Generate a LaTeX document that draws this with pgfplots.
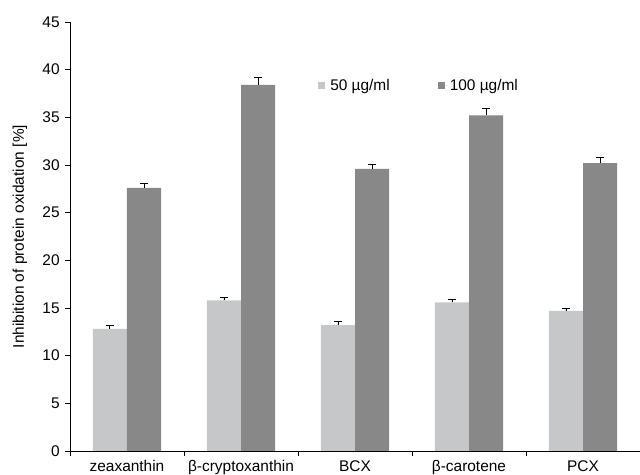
\documentclass[border=0pt]{standalone}
\usepackage{pgfplots}
\pgfplotsset{compat=1.18}
\usepackage{pgfplotstable}
\usepackage{fontspec}
\setmainfont{Liberation Sans}
\definecolor{light}{HTML}{C6C7C9}
\definecolor{dark}{HTML}{888888}
\pgfplotstableread{
x v50 e50 v100 e100
0 12.8 0.4 27.6 0.5
1 15.8 0.3 38.4 0.8
2 13.2 0.35 29.6 0.5
3 15.6 0.25 35.2 0.7
4 14.7 0.3 30.2 0.6
}\data
\begin{document}
\fontsize{15.5}{18}\selectfont
\begin{tikzpicture}
\begin{axis}[
  at={(0,0)}, anchor=south west,
  scale only axis,
  width=570bp, height=429bp,
  ybar, bar width=0.3,
  xmin=-0.5, xmax=4.5,
  ymin=0, ymax=45,
  ytick={0,5,...,45},
  xtick={0,...,4},
  xticklabels={zeaxanthin, β-cryptoxanthin, BCX, β-carotene, PCX},
  minor xtick={-0.5,0.5,1.5,2.5,3.5,4.5},
  major x tick style={draw=none},
  minor x tick style={black, line width=0.8bp},
  minor tick length=5bp,
  major tick length=5bp,
  tick align=outside,
  y tick style={black, line width=0.8bp},
  axis x line*=bottom, axis y line*=left,
  axis line style={line width=0.9bp, black},
  /pgf/number format/assume math mode=true,
  ticklabel style={font=\fontsize{15.5}{18}\selectfont},
  xticklabel style={yshift=1bp},
  ylabel={Inhibition of protein oxidation [\%]},
  ylabel style={font=\fontsize{15.5}{18}\selectfont, yshift=5bp},
  legend style={draw=none, fill=none, at={(0.43,0.851)}, anchor=west,
    legend columns=2, font=\fontsize{15.5}{18}\selectfont,
    /tikz/every even column/.append style={column sep=46bp}},
  legend image code/.code={\fill[#1] (0bp,-3.5bp) rectangle (7bp,3.5bp); \path (0bp,0bp) -- (10bp,0bp);},
  error bars/y dir=plus, error bars/y explicit,
  error bars/error bar style={black, line width=0.8bp},
  error bars/error mark options={rotate=90, mark size=4bp, black, line width=0.8bp},
]
\addplot[fill=light, draw=none, bar shift=-0.15] table[x=x, y=v50, y error=e50] {\data};
\addlegendentry{50 µg/ml}
\addplot[fill=dark, draw=none, bar shift=0.15] table[x=x, y=v100, y error=e100] {\data};
\addlegendentry{100 µg/ml}
\end{axis}
\pgfresetboundingbox
\path (-70bp,-24bp) rectangle (570bp,451bp);
\end{tikzpicture}
\end{document}
